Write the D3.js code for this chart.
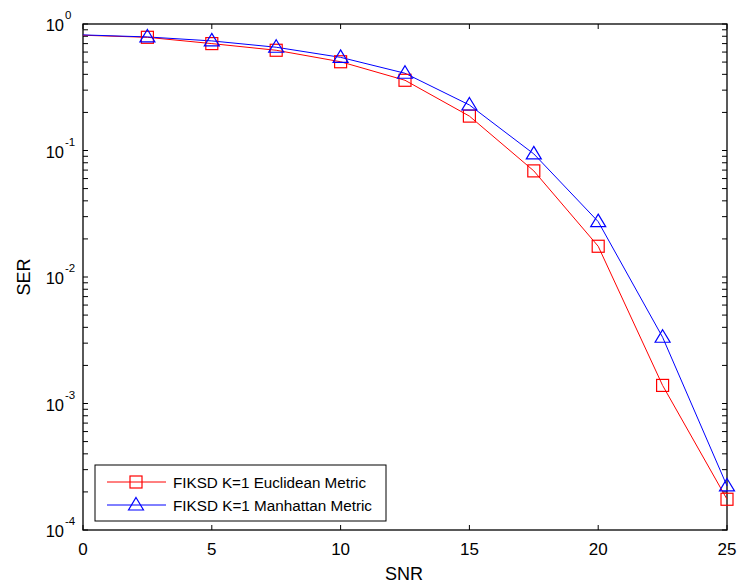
<!DOCTYPE html>
<html><head><meta charset="utf-8">
<script src="https://cdn.jsdelivr.net/npm/d3@7"></script>
<style>body{margin:0;background:#fff}svg text{font-family:"Liberation Sans",Arial,sans-serif}</style>
</head><body><svg id="c" width="737" height="586"></svg>
<script>
const snr = [0, 2.5, 5, 7.5, 10, 12.5, 15, 17.5, 20, 22.5, 25];
const euclid = [0.815, 0.785, 0.70, 0.62, 0.503, 0.359, 0.187, 0.069, 0.0175, 0.00139, 0.000175];
const manhattan = [0.82, 0.79, 0.735, 0.655, 0.545, 0.408, 0.229, 0.094, 0.0274, 0.00334, 0.000223];
const xTicks = [0, 5, 10, 15, 20, 25];
const yExps = [0, -1, -2, -3, -4];
const seriesNames = ["FIKSD K=1 Euclidean Metric", "FIKSD K=1 Manhattan Metric"];

const L = 83, R = 727, T = 24, B = 530;
const svg = d3.select("#c");
const x = d3.scaleLinear().domain([0, 25]).range([L, R]);
const y = d3.scaleLog().domain([1e-4, 1]).range([B, T]);

svg.append("rect").attr("x", L).attr("y", T).attr("width", R - L).attr("height", B - T)
  .attr("fill", "none").attr("stroke", "#000").attr("stroke-width", 1.3);

const tk = 5;
const g = svg.append("g").attr("stroke", "#000").attr("stroke-width", 1);
xTicks.forEach(v => {
  g.append("line").attr("x1", x(v)).attr("x2", x(v)).attr("y1", B).attr("y2", B - tk);
  g.append("line").attr("x1", x(v)).attr("x2", x(v)).attr("y1", T).attr("y2", T + tk);
});
const yt = [];
for (let e = -4; e < 0; e++) for (let m = 1; m <= 9; m++) yt.push(m * Math.pow(10, e));
yt.push(1);
yt.forEach(v => {
  const yy = y(v);
  g.append("line").attr("x1", L).attr("x2", L + tk).attr("y1", yy).attr("y2", yy);
  g.append("line").attr("x1", R).attr("x2", R - tk).attr("y1", yy).attr("y2", yy);
});

xTicks.forEach(v => {
  svg.append("text").attr("x", x(v)).attr("y", 555).attr("text-anchor", "middle")
    .attr("font-size", 17).text(v);
});
yExps.forEach(e => {
  const yy = y(Math.pow(10, e));
  svg.append("text").attr("x", 64).attr("y", yy + 7).attr("text-anchor", "end")
    .attr("font-size", 16.5).text("10");
  svg.append("text").attr("x", 65).attr("y", yy - 5).attr("text-anchor", "start")
    .attr("font-size", 11.5).text(e);
});

svg.append("text").attr("x", (L + R) / 2 - 1).attr("y", 580).attr("text-anchor", "middle")
  .attr("font-size", 18).text("SNR");
svg.append("text").attr("transform", `translate(30,${(T + B) / 2}) rotate(-90)`)
  .attr("text-anchor", "middle").attr("font-size", 18).text("SER");

const line = d3.line().x(d => x(d[0])).y(d => y(d[1]));
const redD = snr.map((s, i) => [s, euclid[i]]);
const blueD = snr.map((s, i) => [s, manhattan[i]]);
svg.append("path").attr("d", line(redD)).attr("fill", "none").attr("stroke", "#ff0000").attr("stroke-width", 1);
svg.append("path").attr("d", line(blueD)).attr("fill", "none").attr("stroke", "#0000ff").attr("stroke-width", 1);

const sq = 12;
function square(sel, cx, cy) {
  sel.append("rect").attr("x", cx - sq / 2).attr("y", cy - sq / 2).attr("width", sq).attr("height", sq)
    .attr("fill", "none").attr("stroke", "#ff0000").attr("stroke-width", 1.2);
}
function triangle(sel, cx, cy) {
  sel.append("path").attr("d", "M0,-7.5L7.5,5L-7.5,5Z").attr("transform", `translate(${cx},${cy})`)
    .attr("fill", "none").attr("stroke", "#0000ff").attr("stroke-width", 1.2);
}
redD.slice(1).forEach(d => square(svg, x(d[0]), y(d[1])));
blueD.slice(1).forEach(d => triangle(svg, x(d[0]), y(d[1])));

svg.append("rect").attr("x", 95).attr("y", 465).attr("width", 291).attr("height", 56)
  .attr("fill", "#fff").attr("stroke", "#000").attr("stroke-width", 1);
const widths = [193, 199];
[482, 505].forEach((ly, i) => {
  svg.append("line").attr("x1", 107).attr("x2", 166).attr("y1", ly).attr("y2", ly)
    .attr("stroke", i ? "#0000ff" : "#ff0000").attr("stroke-width", 1);
  if (i) triangle(svg, 136, ly); else square(svg, 136, ly);
  svg.append("text").attr("x", 173).attr("y", ly + 6).attr("font-size", 15.5)
    .attr("textLength", widths[i]).attr("lengthAdjust", "spacingAndGlyphs").text(seriesNames[i]);
});
</script></body></html>
